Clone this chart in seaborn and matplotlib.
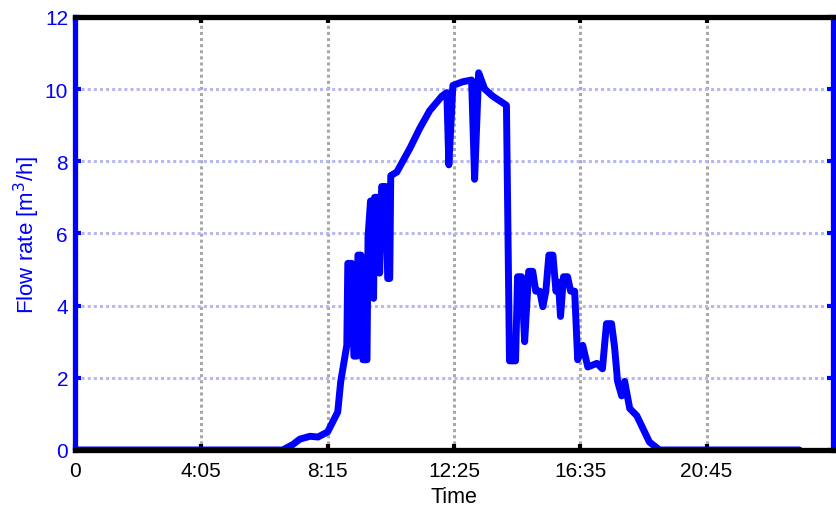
import pandas as pd
import matplotlib
matplotlib.use("Agg")
import matplotlib.pyplot as plt
import seaborn as sns

# === DATA ===
# position along the day (tick units: 250 per label step) and flow rate in m3/h
time_pos = [0, 411, 431, 445, 465, 481, 500, 520, 526, 538,
            540, 548, 552, 558, 560, 566, 570, 578, 580, 585, 589, 591, 593, 601,
            603, 607, 615, 619, 623, 625, 637,
            663, 682, 702, 726, 736, 740, 748, 767, 785, 791, 799, 811, 827, 854,
            860, 872, 876, 884, 890, 898, 906, 912, 920, 926, 932, 938, 946, 952,
            957, 961, 967, 975, 981, 989,
            995, 1005, 1015, 1033, 1044, 1052, 1062, 1068, 1074, 1082, 1088, 1098,
            1112, 1137, 1157, 1434]
flow_rate = [0, 0, 0.15, 0.3, 0.38, 0.36, 0.5, 1.05, 1.9, 2.9,
             5.17, 5.17, 2.6, 2.6, 5.4, 5.4, 2.5, 2.5, 5.9, 6.9, 6.9, 4.2, 7.0, 7.0,
             4.9, 7.3, 7.3, 4.75, 4.75, 7.6, 7.7,
             8.36, 8.9, 9.4, 9.8, 9.9, 7.9, 10.1, 10.2, 10.25, 7.5, 10.45, 10.0, 9.8, 9.55,
             2.47, 2.47, 4.8, 4.8, 3.0, 4.95, 4.95, 4.4, 4.4, 3.97, 4.4, 5.4, 5.4, 4.4,
             4.65, 3.7, 4.8, 4.8, 4.4, 4.4,
             2.5, 2.9, 2.3, 2.4, 2.25, 3.5, 3.5, 2.85, 1.9, 1.5, 1.9, 1.15,
             0.95, 0.22, 0, 0]
tick_pos = [0, 250, 500, 750, 1000, 1250]
tick_labels = ["0", "4:05", "8:15", "12:25", "16:35", "20:45"]
y_ticks = [0, 2, 4, 6, 8, 10, 12]

df = pd.DataFrame({"Time": time_pos, "Flow": flow_rate})

# === PLOT ===
sns.set_style("white")
plt.rcParams["font.family"] = ["Liberation Sans", "DejaVu Sans"]

fig = plt.figure(figsize=(8.37, 5.10), dpi=100)
ax = fig.add_axes([0.0896, 0.1157, 0.9054, 0.8493])

sns.lineplot(data=df, x="Time", y="Flow", ax=ax, color="#0000ff",
             linewidth=5, estimator=None, sort=False)

ax.set_xlim(0, 1500)
ax.set_ylim(0, 12)
ax.set_xticks(tick_pos)
ax.set_xticklabels(tick_labels)
ax.set_yticks(y_ticks)

# grid: grey dotted vertical, light blue dotted horizontal
ax.xaxis.grid(True, color="#a8a8a8", linestyle=(0, (1, 1)), linewidth=2.2)
ax.yaxis.grid(True, color="#b8b8f0", linestyle=(0, (1, 1)), linewidth=2.2)
ax.set_axisbelow(True)

for side in ["top", "bottom"]:
    ax.spines[side].set_color("black")
    ax.spines[side].set_linewidth(3.8)
for side in ["left", "right"]:
    ax.spines[side].set_color("#0000ff")
    ax.spines[side].set_linewidth(3.8)

ax.tick_params(axis="x", direction="in", length=4, width=3, colors="black",
               labelsize=15, top=True, bottom=True, pad=8)
ax.tick_params(axis="y", direction="in", length=4, width=3, color="#0000ff",
               labelcolor="#0000ff", labelsize=15, left=True, right=True, pad=5)

ax.set_xlabel("Time", fontsize=15.5, color="black", labelpad=4)
ax.set_ylabel("Flow rate [m$^3$/h]", fontsize=16, color="#0000ff", labelpad=2)

fig.savefig("out.png", dpi=100)
